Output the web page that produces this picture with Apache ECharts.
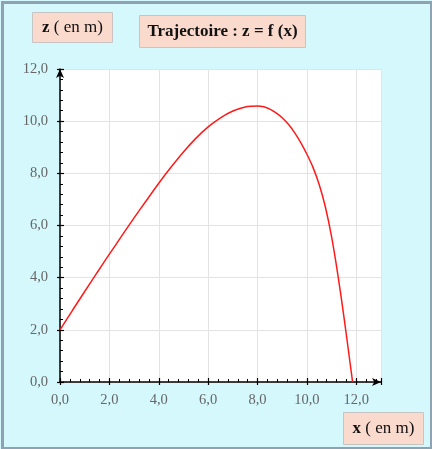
<!DOCTYPE html>
<html>
<head>
<meta charset="utf-8">
<script src="https://cdn.jsdelivr.net/npm/echarts@6/dist/echarts.min.js"></script>
<style>
  html, body { margin: 0; padding: 0; background: #d4f8fc; }
  #chart { width: 432px; height: 449px; }
</style>
</head>
<body>
<div id="chart"></div>
<script>
// trajectory (x in m, z in m)
var xValues = [0, 0.5, 1.0, 1.5, 2.0, 2.5, 3.0, 3.5, 4.0, 4.5, 5.0, 5.5, 6.0, 6.5, 7.0, 7.5, 7.75, 8.0, 8.25, 8.5, 8.75,
               9.0, 9.25, 9.5, 9.75, 10.0, 10.25, 10.5, 10.75, 11.0, 11.25, 11.5, 11.75, 11.85];
var zValues = [2.0, 2.74, 3.47, 4.19, 4.90, 5.60, 6.29, 6.96, 7.62, 8.24, 8.82, 9.34, 9.78, 10.13, 10.39, 10.54, 10.57, 10.58, 10.55, 10.46, 10.32,
               10.13, 9.88, 9.56, 9.18, 8.73, 8.22, 7.56, 6.70, 5.56, 4.13, 2.49, 0.71, 0.0];

var xAxisRange = [0, 13];
var zAxisRange = [0, 12];
var tickStep = 2;

var titleText = 'Trajectoire : z = f (x)';
var zUnitText = '( en m)';
var xUnitText = '( en m)';

var serif = '"Liberation Serif", "Times New Roman", serif';

var points = [];
for (var i = 0; i < xValues.length; i++) {
    points.push([xValues[i], zValues[i]]);
}

function frLabel(v) {
    return v.toFixed(1).replace('.', ',');
}

// box with salmon fill and a soft shadow border
function labelBox(x, y, w, h, richText) {
    return {
        type: 'group',
        left: x,
        top: y,
        children: [
            {
                type: 'rect',
                shape: { x: 0, y: 0, width: w, height: h },
                style: { fill: '#f9dacd', stroke: '#c9c4c4', lineWidth: 1 }
            },
            {
                type: 'text',
                x: w / 2,
                y: h / 2,
                style: {
                    text: richText,
                    align: 'center',
                    verticalAlign: 'middle',
                    fontFamily: serif,
                    fontSize: 17,
                    fill: '#111',
                    rich: {
                        b: { fontWeight: 'bold', fontSize: 17, fontFamily: serif, fill: '#111' },
                        n: { fontSize: 17, fontFamily: serif, fill: '#111' }
                    }
                }
            }
        ]
    };
}

var chart = echarts.init(document.getElementById('chart'));

var baseAxis = {
    interval: tickStep,
    axisLine: {
        show: true,
        onZero: false,
        symbol: ['none', 'arrow'],
        symbolSize: [6, 9],
        lineStyle: { color: '#000', width: 1.5 }
    },
    axisTick: { show: true, inside: true, length: 4, lineStyle: { color: '#000', width: 1.2 } },
    minorTick: { show: true, splitNumber: 5, length: 3, lineStyle: { color: '#000', width: 1 } },
    axisLabel: {
        color: '#666',
        fontFamily: serif,
        fontSize: 14.5,
        showMaxLabel: true,
        formatter: frLabel
    },
    splitLine: { show: true, lineStyle: { color: '#e3e3e3', width: 1 } }
};

// second axis only carries the outer half of the major ticks
var outerTicks = {
    interval: tickStep,
    axisLine: { show: false },
    axisTick: { show: true, inside: false, length: 3, lineStyle: { color: '#000', width: 1.2 } },
    axisLabel: { show: false },
    splitLine: { show: false }
};

var option = {
    animation: false,
    backgroundColor: '#d4f8fc',
    grid: {
        left: 60, right: 51, top: 69, bottom: 67,
        show: true, backgroundColor: '#fff', borderWidth: 0
    },
    xAxis: [
        Object.assign({}, baseAxis, {
            type: 'value', min: xAxisRange[0], max: xAxisRange[1], position: 'bottom',
            axisLabel: Object.assign({}, baseAxis.axisLabel, { margin: 11, showMaxLabel: false })
        }),
        Object.assign({}, outerTicks, { type: 'value', min: xAxisRange[0], max: xAxisRange[1], position: 'bottom' })
    ],
    yAxis: [
        Object.assign({}, baseAxis, {
            type: 'value', min: zAxisRange[0], max: zAxisRange[1], position: 'left',
            axisLabel: Object.assign({}, baseAxis.axisLabel, { margin: 12 })
        }),
        Object.assign({}, outerTicks, { type: 'value', min: zAxisRange[0], max: zAxisRange[1], position: 'left' })
    ],
    series: [{
        type: 'line',
        data: points,
        smooth: 0.3,
        showSymbol: false,
        lineStyle: { color: '#ff1a1a', width: 1.5 },
        xAxisIndex: 0,
        yAxisIndex: 0
    }],
    graphic: [
        {
            type: 'rect',
            left: 0, top: 0, z: 100, silent: true,
            shape: { x: 1.5, y: 1.5, width: 429, height: 446 },
            style: { fill: 'none', stroke: '#8ea2b2', lineWidth: 3 }
        },
        labelBox(32, 12, 80, 30, '{b|z} {n|' + zUnitText + '}'),
        labelBox(139, 15, 166, 32, '{b|' + titleText + '}'),
        labelBox(343, 412, 80, 32, '{b|x} {n|' + xUnitText + '}')
    ]
};

chart.setOption(option);
</script>
</body>
</html>
